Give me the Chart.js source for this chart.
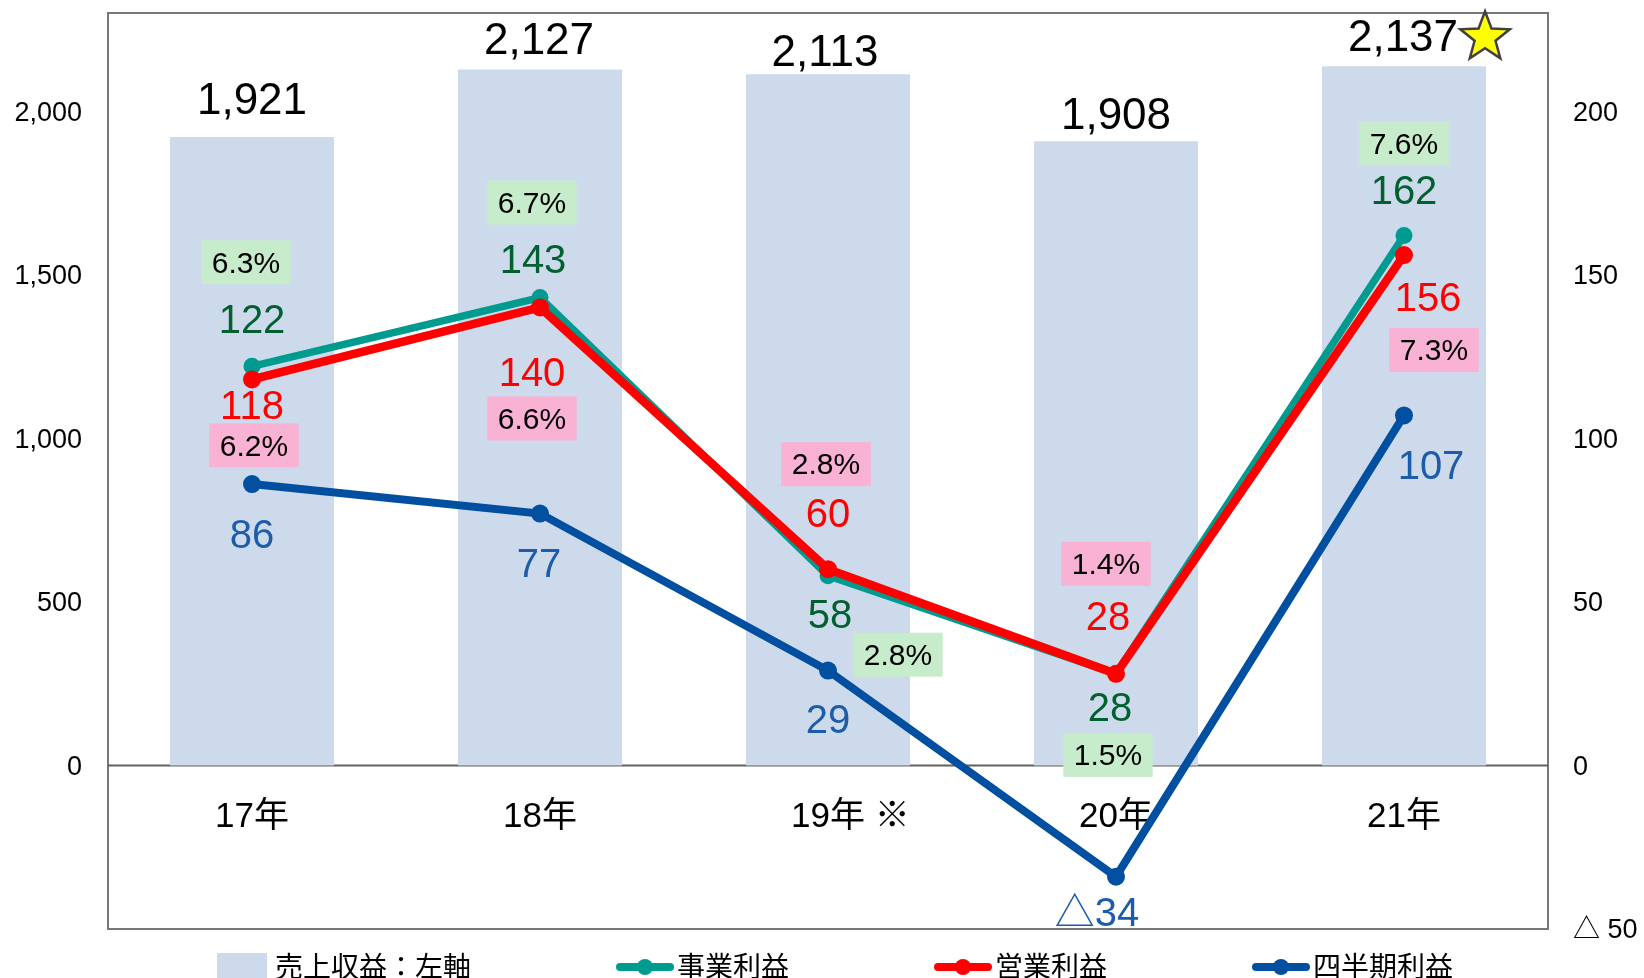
<!DOCTYPE html>
<html><head><meta charset="utf-8">
<script src="https://cdn.jsdelivr.net/npm/chart.js@4.4.1/dist/chart.umd.min.js"></script>
<style>html,body{margin:0;padding:0;background:#fff;overflow:hidden;}</style>
</head><body>
<canvas id="c" width="1644" height="978"></canvas>
<script>
// ---- data ----
const categories = ['17年', '18年', '19年 ※', '20年', '21年'];
const revenue = [1921, 2127, 2113, 1908, 2137];
const businessProfit = [122, 143, 58, 28, 162];
const operatingProfit = [118, 140, 60, 28, 156];
const netProfit = [86, 77, 29, -34, 107];
const businessMargin = [6.3, 6.7, 2.8, 1.5, 7.6];
const operatingMargin = [6.2, 6.6, 2.8, 1.4, 7.3];
const seriesNames = ['売上収益：左軸', '事業利益', '営業利益', '四半期利益'];
const leftTicks = [0, 500, 1000, 1500, 2000];
const rightTicks = [-50, 0, 50, 100, 150, 200];

// ---- styling ----
const FONT = '"Liberation Sans", Arial, "Noto Sans CJK JP", sans-serif';
const CJK = '"Noto Sans CJK JP", sans-serif';
const C = {
  bar: '#CDDAEB', teal: '#009B8F', red: '#FF0000', blue: '#004FA0',
  tealText: '#00602F', redText: '#FF0000', blueText: '#1D5CA9',
  greenBox: '#C7ECCB', pinkBox: '#F9B1D4', frame: '#777777', zero: '#606060'
};
const SHIFT = 4; // vertical text correction
// label offsets (px) relative to the library-computed point / bar top
const labelLayout = {
  revenue:      [[0, -39], [-1, -32], [-3, -24], [0, -28], [-1, -31]],
  business:     [[0, -48], [-7, -40], [2, 37], [-6, 32], [0, -46]],
  operating:    [[0, 25], [-8, 64], [0, -57], [-8, -59], [24, 41]],
  net:          [[0, 49], [-1, 48], [0, 47], [-19, 34], [27, 49]],
  businessBox:  [[-6, -106], [-8, -97], [70, 77], [-8, 79], [0, -94]],
  operatingBox: [[2, 64], [-8, 109], [-2, -107], [-10, -112], [30, 93]]
};

const fmtSigned = v => v < 0 ? '△' + Math.abs(v) : String(v);

function drawStar(ctx, cx, cy, R, r) {
  ctx.beginPath();
  for (let i = 0; i < 10; i++) {
    const rad = i % 2 === 0 ? R : r;
    const a = -Math.PI / 2 + i * Math.PI / 5;
    const x = cx + rad * Math.cos(a), y = cy + rad * Math.sin(a);
    if (i === 0) ctx.moveTo(x, y); else ctx.lineTo(x, y);
  }
  ctx.closePath();
  ctx.fillStyle = '#FFFF00';
  ctx.fill();
  ctx.lineWidth = 2.5;
  ctx.strokeStyle = '#404040';
  ctx.lineJoin = 'miter';
  ctx.stroke();
}

function boxLabel(ctx, text, cx, cy, bg) {
  ctx.font = '30px ' + FONT;
  const w = ctx.measureText(text).width + 21, h = 44;
  ctx.fillStyle = bg;
  ctx.fillRect(cx - w / 2, cy - h / 2, w, h);
  ctx.fillStyle = '#000';
  ctx.textAlign = 'center';
  ctx.textBaseline = 'middle';
  ctx.fillText(text, cx, cy + 2);
}

const customPlugin = {
  id: 'custom',
  beforeDatasetsDraw(chart) {
    const {ctx, chartArea: a, scales} = chart;
    ctx.save();
    ctx.strokeStyle = C.frame;
    ctx.lineWidth = 2;
    ctx.strokeRect(a.left, a.top, a.right - a.left, a.bottom - a.top);
    const y0 = scales.y.getPixelForValue(0);
    ctx.strokeStyle = C.zero;
    ctx.beginPath();
    ctx.moveTo(a.left, y0); ctx.lineTo(a.right, y0);
    ctx.stroke();
    ctx.restore();
  },
  afterDatasetsDraw(chart) {
    const ctx = chart.ctx;
    ctx.save();
    // bar value labels
    chart.getDatasetMeta(0).data.forEach((el, i) => {
      const [dx, dy] = labelLayout.revenue[i];
      const t = revenue[i].toLocaleString('en-US');
      const cx = el.x + dx, cy = el.y + dy + SHIFT;
      ctx.font = '44px ' + FONT;
      ctx.fillStyle = '#000';
      ctx.textAlign = 'center';
      ctx.textBaseline = 'middle';
      ctx.fillText(t, cx, cy);
      if (i === revenue.length - 1) {
        const w = ctx.measureText(t).width;
        drawStar(ctx, cx + w / 2 + 27, cy - 2, 26, 11);
      }
    });
    // line value labels
    const sets = [
      {meta: 1, vals: businessProfit, off: labelLayout.business, color: C.tealText},
      {meta: 2, vals: operatingProfit, off: labelLayout.operating, color: C.redText},
      {meta: 3, vals: netProfit, off: labelLayout.net, color: C.blueText}
    ];
    sets.forEach(s => {
      chart.getDatasetMeta(s.meta).data.forEach((pt, i) => {
        const [dx, dy] = s.off[i];
        ctx.font = '40px ' + FONT;
        ctx.fillStyle = s.color;
        ctx.textAlign = 'center';
        ctx.textBaseline = 'middle';
        ctx.fillText(fmtSigned(s.vals[i]), pt.x + dx, pt.y + dy + SHIFT);
      });
    });
    // margin boxes
    chart.getDatasetMeta(1).data.forEach((pt, i) => {
      const [dx, dy] = labelLayout.businessBox[i];
      boxLabel(ctx, businessMargin[i].toFixed(1) + '%', pt.x + dx, pt.y + dy + SHIFT - 2, C.greenBox);
    });
    chart.getDatasetMeta(2).data.forEach((pt, i) => {
      const [dx, dy] = labelLayout.operatingBox[i];
      boxLabel(ctx, operatingMargin[i].toFixed(1) + '%', pt.x + dx, pt.y + dy + SHIFT - 2, C.pinkBox);
    });
    ctx.restore();
  },
  afterDraw(chart) {
    // legend
    const ctx = chart.ctx;
    const ds = chart.data.datasets;
    ctx.save();
    const ly = 966;
    let x = 217;
    ctx.textBaseline = 'middle';
    ctx.textAlign = 'left';
    ds.forEach((d, i) => {
      if (i === 0) {
        ctx.fillStyle = d.backgroundColor;
        ctx.fillRect(x, ly - 13, 50, 26);
        x += 58;
      } else {
        ctx.strokeStyle = d.borderColor;
        ctx.lineWidth = 8;
        ctx.lineCap = 'round';
        ctx.beginPath();
        ctx.moveTo(x + 4, ly + 1); ctx.lineTo(x + 54, ly + 1);
        ctx.stroke();
        ctx.fillStyle = d.borderColor;
        ctx.beginPath();
        ctx.arc(x + 29, ly + 1, 8, 0, Math.PI * 2);
        ctx.fill();
        x += 61;
      }
      ctx.fillStyle = '#000';
      ctx.font = '28px ' + CJK;
      ctx.fillText(d.label, x, ly);
      x += ctx.measureText(d.label).width + 145;
    });
    ctx.restore();
  }
};

new Chart(document.getElementById('c'), {
  type: 'bar',
  data: {
    labels: categories,
    datasets: [
      {label: seriesNames[0], data: revenue, yAxisID: 'y', backgroundColor: C.bar,
       borderWidth: 0, categoryPercentage: 0.57, barPercentage: 1, order: 4},
      {type: 'line', label: seriesNames[1], data: businessProfit, yAxisID: 'y1',
       borderColor: C.teal, backgroundColor: C.teal, borderWidth: 7.5, pointRadius: 8.5,
       pointBorderWidth: 0, pointBackgroundColor: C.teal, tension: 0, order: 2},
      {type: 'line', label: seriesNames[2], data: operatingProfit, yAxisID: 'y1',
       borderColor: C.red, backgroundColor: C.red, borderWidth: 8.5, pointRadius: 9,
       pointBorderWidth: 0, pointBackgroundColor: C.red, tension: 0, order: 1},
      {type: 'line', label: seriesNames[3], data: netProfit, yAxisID: 'y1',
       borderColor: C.blue, backgroundColor: C.blue, borderWidth: 8, pointRadius: 9,
       pointBorderWidth: 0, pointBackgroundColor: C.blue, tension: 0, order: 3}
    ]
  },
  options: {
    responsive: false,
    animation: false,
    devicePixelRatio: 1,
    layout: {padding: {top: 13, bottom: 49, left: 0, right: 0}},
    plugins: {legend: {display: false}, tooltip: {enabled: false}},
    scales: {
      x: {
        position: {y: 0},
        offset: true,
        grid: {display: false, drawTicks: false},
        border: {display: false},
        ticks: {
          font: {size: 35, family: FONT}, color: '#000', padding: 31,
          maxRotation: 0, autoSkip: false,
          callback: function (v) {
            const l = this.getLabelForValue(v);
            return l.split(' ').length > 1 ? '\u3000 ' + l : l;
          }
        }
      },
      y: {
        position: 'left', min: -500, max: 2300,
        grid: {display: false, drawTicks: false},
        border: {display: false},
        afterBuildTicks: s => { s.ticks = leftTicks.map(v => ({value: v})); },
        ticks: {
          font: {size: 27, family: FONT}, color: '#000', padding: 26, labelOffset: 2,
          callback: v => v.toLocaleString('en-US')
        },
        afterFit: s => { s.width = 108; s.paddingTop = 0; s.paddingBottom = 0; }
      },
      y1: {
        position: 'right', min: -50, max: 230,
        grid: {display: false, drawTicks: false},
        border: {display: false},
        afterBuildTicks: s => { s.ticks = rightTicks.map(v => ({value: v})); },
        ticks: {
          font: {size: 27, family: FONT}, color: '#000', padding: 25, labelOffset: 2,
          callback: v => v < 0 ? '△ ' + Math.abs(v) : String(v)
        },
        afterFit: s => { s.width = 96; s.paddingTop = 0; s.paddingBottom = 0; }
      }
    }
  },
  plugins: [customPlugin]
});
</script>
</body></html>
